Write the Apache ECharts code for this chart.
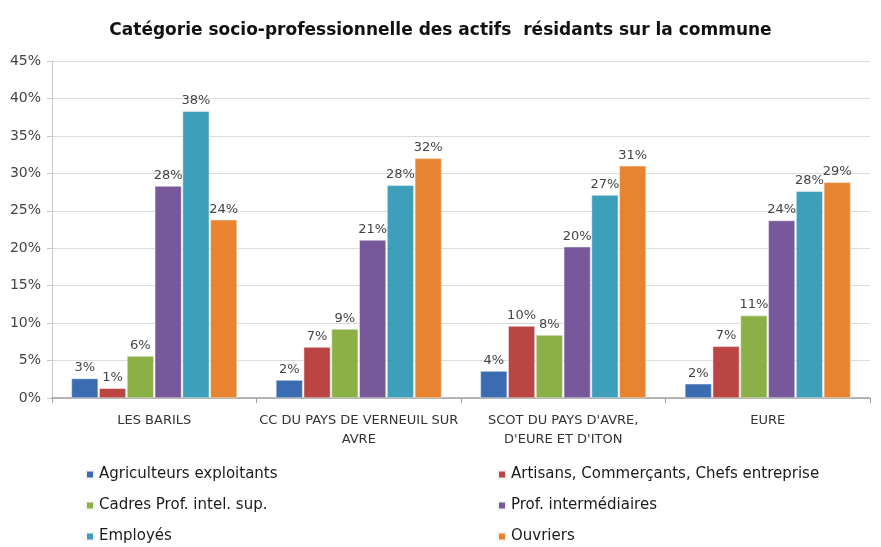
<!DOCTYPE html>
<html>
<head>
<meta charset="utf-8">
<script src="https://cdn.jsdelivr.net/npm/echarts@6/dist/echarts.min.js"></script>
<style>
  html, body { margin: 0; padding: 0; background: #fff; }
  #chart { width: 881px; height: 547px; }
</style>
</head>
<body>
<div id="chart"></div>
<script>
// catégories (zones géographiques)
const categories = [
  'LES BARILS',
  'CC DU PAYS DE VERNEUIL SUR\nAVRE',
  "SCOT DU PAYS D'AVRE,\nD'EURE ET D'ITON",
  'EURE'
]

// parts en % par catégorie socio-professionnelle
const agriculteurs = [2.6, 2.4, 3.6, 1.9]
const artisans = [1.3, 6.8, 9.6, 6.9]
const cadres = [5.6, 9.2, 8.4, 11.0]
const profInter = [28.3, 21.1, 20.2, 23.7]
const employes = [38.3, 28.4, 27.1, 27.6]
const ouvriers = [23.8, 32.0, 31.0, 28.8]

const yTicks = [0, 5, 10, 15, 20, 25, 30, 35, 40, 45]

const seriesDefs = [
  { name: 'Agriculteurs exploitants', data: agriculteurs, color: '#3b6cb2' },
  { name: 'Artisans, Commerçants, Chefs entreprise', data: artisans, color: '#bb4542' },
  { name: 'Cadres Prof. intel. sup.', data: cadres, color: '#8cb048' },
  { name: 'Prof. intermédiaires', data: profInter, color: '#77589b' },
  { name: 'Employés', data: employes, color: '#3e9fba' },
  { name: 'Ouvriers', data: ouvriers, color: '#e8842f' }
]

const font = '"DejaVu Sans", sans-serif'

const chart = echarts.init(document.getElementById('chart'))

const legendBase = {
  orient: 'vertical',
  top: 462,
  height: 120,
  itemWidth: 8,
  itemHeight: 8,
  itemGap: 16,
  icon: 'rect',
  textStyle: { fontFamily: font, fontSize: 15, color: '#1a1a1a' }
}

chart.setOption({
  animation: false,
  title: {
    text: 'Catégorie socio-professionnelle des actifs  résidants sur la commune',
    left: 'center',
    top: 17,
    textStyle: { fontFamily: font, fontSize: 17, fontWeight: 'bold', color: '#111' }
  },
  legend: [
    { ...legendBase, left: 80, data: [seriesDefs[0].name, seriesDefs[2].name, seriesDefs[4].name] },
    { ...legendBase, left: 492, data: [seriesDefs[1].name, seriesDefs[3].name, seriesDefs[5].name] }
  ],
  grid: {
    top: 61,
    left: 52,
    right: 11,
    bottom: 149
  },
  xAxis: {
    type: 'category',
    data: categories,
    axisLine: { lineStyle: { color: '#a0a0a0', width: 1.5 } },
    axisTick: { show: true, length: 5, lineStyle: { color: '#a0a0a0' } },
    axisLabel: {
      fontFamily: font,
      fontSize: 13,
      color: '#333',
      margin: 13,
      lineHeight: 19,
      interval: 0
    }
  },
  yAxis: {
    type: 'value',
    min: yTicks[0],
    max: yTicks[yTicks.length - 1],
    interval: 5,
    axisLine: { show: true, lineStyle: { color: '#c8c8c8' } },
    axisTick: { show: true, length: 5, lineStyle: { color: '#c8c8c8' } },
    splitLine: { lineStyle: { color: '#dcdcdc' } },
    axisLabel: {
      fontFamily: font,
      fontSize: 14,
      color: '#444',
      margin: 11,
      formatter: '{value}%'
    }
  },
  series: seriesDefs.map(s => ({
    name: s.name,
    type: 'bar',
    data: s.data,
    barGap: '4%',
    barCategoryGap: '19%',
    itemStyle: { color: s.color, borderColor: '#f4f4f4', borderWidth: 0.5 },
    label: {
      show: true,
      position: 'top',
      distance: 4,
      fontFamily: font,
      fontSize: 13,
      color: '#444',
      formatter: p => Math.round(p.value) + '%'
    }
  }))
})
</script>
</body>
</html>
